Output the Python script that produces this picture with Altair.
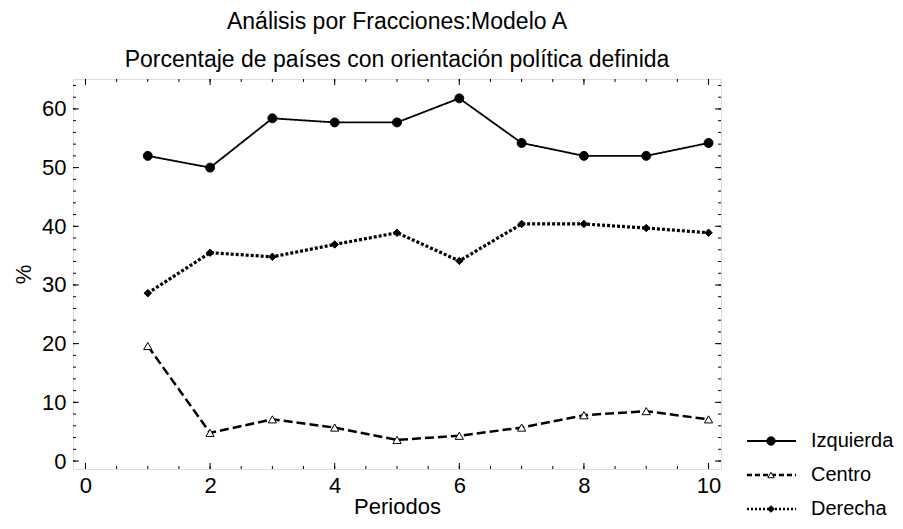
import altair as alt
import pandas as pd

# ---- data ----
periodos = [1, 2, 3, 4, 5, 6, 7, 8, 9, 10]
izquierda = [52.0, 50.0, 58.4, 57.7, 57.7, 61.8, 54.2, 52.0, 52.0, 54.2]
centro = [19.6, 4.8, 7.1, 5.7, 3.6, 4.3, 5.7, 7.8, 8.5, 7.1]
derecha = [28.6, 35.5, 34.8, 36.9, 38.9, 34.1, 40.4, 40.4, 39.7, 38.9]
series = ["Izquierda", "Centro", "Derecha"]

x_major = [0, 2, 4, 6, 8, 10]
y_major = [0, 10, 20, 30, 40, 50, 60]
x_minor = [v / 2 for v in range(0, 21)]
y_minor = list(range(0, 65, 2))

title_lines = ["Análisis por Fracciones:Modelo A",
               "Porcentaje de países con orientación política definida"]

# ---- layout ----
W, H = 648, 390
XDOM = [-0.2, 10.2]
YDOM = [-1.36, 65.1]
FONT = "Liberation Sans"
FS_LAB = 22
FS_TIT = 23
FS_AX = 22
FS_LEG = 20

rows = []
for name, vals in zip(series, [izquierda, centro, derecha]):
    for p, v in zip(periodos, vals):
        rows.append({"Periodo": p, "Serie": name, "Valor": v})
df = pd.DataFrame(rows)

xscale = alt.Scale(domain=XDOM, nice=False, zero=False)
yscale = alt.Scale(domain=YDOM, nice=False, zero=False)

X_ENC = alt.X("Periodo:Q", scale=xscale,
              axis=alt.Axis(values=x_major, title="Periodos", ticks=False, tickSize=0,
                            domain=False, grid=False, labelFontSize=FS_LAB, titleFontSize=FS_AX,
                            labelPadding=6, titlePadding=0, labelColor="black",
                            titleColor="black", titleFontWeight="normal", labelFont=FONT,
                            titleFont=FONT))
Y_ENC = alt.Y("Valor:Q", scale=yscale,
              axis=alt.Axis(values=y_major, title="%", ticks=False, tickSize=0,
                            domain=False, grid=False, labelFontSize=FS_LAB, titleFontSize=FS_AX,
                            labelPadding=7, titlePadding=6, labelColor="black",
                            titleColor="black", titleFontWeight="normal", labelFont=FONT,
                            titleFont=FONT))

lines = alt.Chart(df).mark_line(color="black").encode(
    x=X_ENC, y=Y_ENC, detail="Serie:N",
    strokeDash=alt.StrokeDash("Serie:N", scale=alt.Scale(domain=series,
                              range=[[1, 0], [9, 4], [3, 2]]), legend=None),
    strokeWidth=alt.StrokeWidth("Serie:N", scale=alt.Scale(domain=series,
                                range=[1.8, 3.2, 3.2]), legend=None),
)

points = alt.Chart(df).mark_point(filled=True, stroke="black", strokeWidth=1, opacity=1).encode(
    x=X_ENC, y=Y_ENC,
    shape=alt.Shape("Serie:N", scale=alt.Scale(domain=series,
                    range=["circle", "triangle-up", "diamond"]), legend=None),
    fill=alt.Fill("Serie:N", scale=alt.Scale(domain=series,
                  range=["black", "white", "black"]), legend=None),
    size=alt.Size("Serie:N", scale=alt.Scale(domain=series, range=[80, 55, 55]), legend=None),
)

# ---- inward ticks on all four sides ----
def yticks(vals, length):
    d = pd.DataFrame({"Valor": vals})
    left = alt.Chart(d).mark_rule(color="black", strokeWidth=1).encode(
        y=Y_ENC, x=alt.value(0), x2=alt.value(length))
    right = alt.Chart(d).mark_rule(color="black", strokeWidth=1).encode(
        y=Y_ENC, x=alt.value(W - length), x2=alt.value(W))
    return [left, right]

def xticks(vals, length):
    d = pd.DataFrame({"Periodo": vals})
    bottom = alt.Chart(d).mark_rule(color="black", strokeWidth=1).encode(
        x=X_ENC, y=alt.value(H - length), y2=alt.value(H))
    top = alt.Chart(d).mark_rule(color="black", strokeWidth=1).encode(
        x=X_ENC, y=alt.value(0), y2=alt.value(length))
    return [bottom, top]

tick_layers = yticks(y_minor, 3) + yticks(y_major, 6) + xticks(x_minor, 3) + xticks(x_major, 6)

# ---- manual legend ----
leg_dash = [[1, 0], [5, 3], [2, 2]]
leg_width = [1.8, 2.5, 2.5]
leg_shape = ["circle", "triangle-up", "diamond"]
leg_fill = ["black", "white", "black"]
leg_size = [70, 40, 45]
leg_layers = []
for i, name in enumerate(series):
    d = pd.DataFrame({"Serie": [name]})
    ly = H - 28 + i * 34
    leg_layers.append(alt.Chart(d).mark_rule(color="black", strokeWidth=leg_width[i],
                                             strokeDash=leg_dash[i]).encode(
        x=alt.value(674), x2=alt.value(723), y=alt.value(ly)))
    leg_layers.append(alt.Chart(d).mark_point(filled=True, stroke="black", strokeWidth=1,
                                              fill=leg_fill[i], shape=leg_shape[i],
                                              size=leg_size[i], opacity=1).encode(
        x=alt.value(698), y=alt.value(ly)))
    leg_layers.append(alt.Chart(d).mark_text(align="left", baseline="middle", fontSize=FS_LEG,
                                             font=FONT, color="black").encode(
        x=alt.value(738), y=alt.value(ly), text="Serie:N"))

chart = alt.layer(lines, points, *tick_layers, *leg_layers).properties(
    width=W, height=H,
    title=alt.TitleParams(text=title_lines, fontSize=FS_TIT, font=FONT, fontWeight="normal",
                          anchor="middle", color="black", lineHeight=38, offset=7),
    autosize=alt.AutoSizeParams(type="none"),
    padding={"left": 65, "top": 71, "right": 174, "bottom": 52},
).configure_view(stroke="black", strokeWidth=1).configure(font=FONT)

chart.save("out.html", embed_options={"renderer": "svg", "actions": False})
